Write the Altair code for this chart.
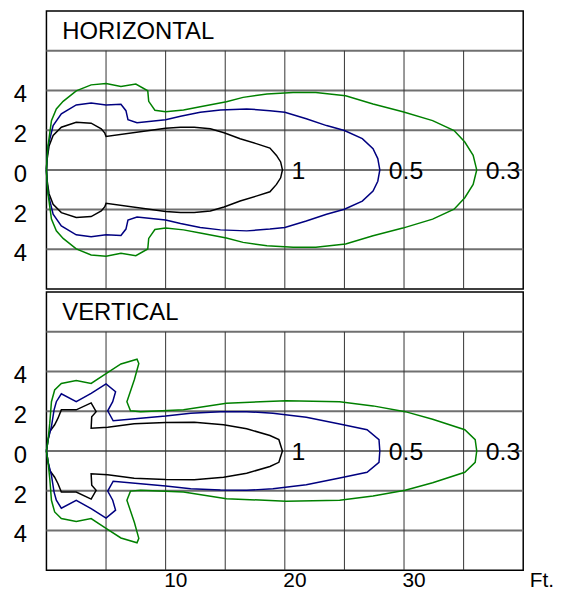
import altair as alt
import pandas as pd

FONT = "Liberation Sans"
FS_TICK = 24
FS_XTICK = 21
FS_TITLE = 24
FS_LABEL = 25

# ---------------- data (feet vs. lateral units) ----------------
# HORIZONTAL panel
H1_X = [0, 0.05, 0.22, 0.56, 1.25, 2.5, 3.75, 4.6, 4.9, 5.0, 10, 11.25, 12.4, 13.75, 14.9, 16.25, 17.6, 18.75, 19.3, 19.65, 19.8,
        19.65, 19.3, 18.75, 17.6, 16.25, 14.9, 13.75, 12.4, 11.25, 10, 5.0, 4.9, 4.6, 3.75, 2.5, 1.25, 0.56, 0.22, 0.05, 0]
H1_Y = [0, 0.5, 1.2, 1.73, 2.15, 2.4, 2.35, 2.07, 1.85, 1.68, 2.1, 2.15, 2.15, 2.07, 1.87, 1.57, 1.32, 1.1, 0.73, 0.4, 0,
        -0.4, -0.73, -1.1, -1.32, -1.57, -1.87, -2.07, -2.15, -2.15, -2.1, -1.68, -1.85, -2.07, -2.35, -2.4, -2.15, -1.73, -1.2, -0.5, 0]

H05_X = [0, 0.05, 0.14, 0.56, 1.25, 2.5, 3.75, 5, 6.25, 6.67, 6.84, 7.6, 10, 11.25, 12.9, 14.6, 16.8, 18.75, 20, 21.8, 23.5, 25, 26.5, 27.4, 27.8, 27.97,
         27.8, 27.4, 26.5, 25, 23.5, 21.8, 20, 18.75, 16.8, 14.6, 12.9, 11.25, 10, 7.6, 6.84, 6.67, 6.25, 5, 3.75, 2.5, 1.25, 0.56, 0.14, 0.05, 0]
H05_Y = [0, 0.6, 1.2, 2.23, 2.82, 3.27, 3.37, 3.27, 3.3, 2.98, 2.53, 2.37, 2.52, 2.7, 2.9, 3.02, 3.07, 2.98, 2.9, 2.57, 2.23, 1.98, 1.57, 1.07, 0.57, 0,
         -0.57, -1.07, -1.57, -1.98, -2.23, -2.57, -2.9, -2.98, -3.07, -3.02, -2.9, -2.7, -2.52, -2.37, -2.53, -2.98, -3.3, -3.27, -3.37, -3.27, -2.82, -2.23, -1.2, -0.6, 0]

H03_X = [0, 0.05, 0.14, 0.42, 0.83, 1.4, 2.5, 3.75, 5, 6.25, 7.5, 8.5, 8.58, 9.1, 10, 11.5, 12.9, 15.1, 16.5, 18.5, 20.7, 22.6, 25.1, 27.4, 29.9, 32.4, 34.2, 35.1, 35.8, 36.1,
         35.8, 35.1, 34.2, 32.4, 29.9, 27.4, 25.1, 22.6, 20.7, 18.5, 16.5, 15.1, 12.9, 11.5, 10, 9.1, 8.58, 8.5, 7.5, 6.25, 5, 3.75, 2.5, 1.4, 0.83, 0.42, 0.14, 0.05, 0]
H03_Y = [0, 0.6, 1.23, 2.48, 3.07, 3.45, 3.98, 4.28, 4.35, 4.2, 4.32, 3.98, 3.45, 3.0, 2.93, 3.02, 3.18, 3.43, 3.65, 3.82, 3.9, 3.9, 3.73, 3.32, 2.93, 2.48, 1.98, 1.4, 0.73, 0,
         -0.73, -1.4, -1.98, -2.48, -2.93, -3.32, -3.73, -3.9, -3.9, -3.82, -3.65, -3.43, -3.18, -3.02, -2.93, -3.0, -3.45, -3.98, -4.32, -4.2, -4.35, -4.28, -3.98, -3.45, -3.07, -2.48, -1.23, -0.6, 0]

# VERTICAL panel
V1_X = [0, 0.14, 0.28, 0.69, 0.97, 1.25, 2.5, 3.75, 4.17, 3.8, 3.75, 5.14, 7.36, 10, 12.4, 14.86, 16.8, 18.75, 19.5, 19.8,
        19.5, 18.75, 16.8, 14.86, 12.4, 10, 7.36, 5.14, 3.75, 3.8, 4.17, 3.75, 2.5, 1.25, 0.97, 0.69, 0.28, 0.14, 0]
V1_Y = [0, 0.57, 0.98, 1.32, 1.65, 2.07, 2.07, 2.42, 1.98, 1.72, 1.15, 1.2, 1.37, 1.43, 1.45, 1.32, 1.12, 0.78, 0.57, 0,
        -0.57, -0.78, -1.12, -1.32, -1.45, -1.43, -1.37, -1.2, -1.15, -1.72, -1.98, -2.42, -2.07, -2.07, -1.65, -1.32, -0.98, -0.57, 0]

V05_X = [0, 0.14, 0.42, 0.64, 0.83, 1.25, 2.5, 3.75, 5, 5.8, 5.56, 5.14, 5.6, 7.9, 10, 12.1, 14.6, 16.8, 19, 21.8, 24.6, 26.9, 27.9, 27.97,
         27.9, 26.9, 24.6, 21.8, 19, 16.8, 14.6, 12.1, 10, 7.9, 5.6, 5.14, 5.56, 5.8, 5, 3.75, 2.5, 1.25, 0.83, 0.64, 0.42, 0.14, 0]
V05_Y = [0, 0.57, 1.23, 2.07, 2.48, 2.88, 2.48, 2.9, 3.38, 2.98, 2.48, 2.02, 1.52, 1.65, 1.76, 1.9, 1.97, 1.98, 1.9, 1.7, 1.36, 1.07, 0.57, 0,
         -0.57, -1.07, -1.36, -1.7, -1.9, -1.98, -1.97, -1.9, -1.76, -1.65, -1.52, -2.02, -2.48, -2.98, -3.38, -2.9, -2.48, -2.88, -2.48, -2.07, -1.23, -0.57, 0]

V03_X = [0, 0.14, 0.28, 0.42, 0.69, 1.25, 2.5, 3.75, 5, 6.25, 7.6, 7.75, 7.38, 6.75, 7.05, 7.9, 11.5, 15.1, 20.1, 24.6, 27.4, 30.1, 32.4, 35.1, 35.97, 36.1,
         35.97, 35.1, 32.4, 30.1, 27.4, 24.6, 20.1, 15.1, 11.5, 7.9, 7.05, 6.75, 7.38, 7.75, 7.6, 6.25, 5, 3.75, 2.5, 1.25, 0.69, 0.42, 0.28, 0.14, 0]
V03_Y = [0, 0.57, 1.4, 2.48, 3.07, 3.4, 3.55, 3.4, 3.9, 4.38, 4.62, 4.4, 3.6, 2.48, 2.02, 1.98, 2.07, 2.4, 2.53, 2.48, 2.27, 1.98, 1.6, 1.07, 0.57, 0,
         -0.57, -1.07, -1.6, -1.98, -2.27, -2.48, -2.53, -2.4, -2.07, -1.98, -2.02, -2.48, -3.6, -4.4, -4.62, -4.38, -3.9, -3.4, -3.55, -3.4, -3.07, -2.48, -1.4, -0.57, 0]

LEVELS = ["1", "0.5", "0.3"]
LEVEL_COLORS = ["#000000", "#000080", "#008000"]
LABEL_X = [19.8, 27.97, 36.1]  # tip of each contour on the axis

Y_TICKS = [-4, -2, 0, 2, 4]
H_LINES = [-4, -2, 0, 2, 4, 6]
V_LINES = [5, 10, 15, 20, 25, 30, 35]
X_TICKS = [10, 20, 30, 40]

# ---------------- helpers ----------------
X_SCALE = alt.Scale(domain=[0, 40], nice=False, zero=False)
Y_SCALE = alt.Scale(domain=[-6, 8], nice=False, zero=False)

Y_AXIS = alt.Axis(values=Y_TICKS, labelExpr="format(abs(datum.value), 'd')", grid=False, domain=False,
                  ticks=False, tickSize=0, title=None, labelFont=FONT, labelFontSize=FS_TICK, labelColor="black",
                  labelPadding=20, labelBaseline="middle", labelOffset=4.5)


def x_axis(show):
    if not show:
        return None
    return alt.Axis(values=X_TICKS, labelExpr="datum.value == 40 ? 'Ft.' : datum.label", grid=False,
                    domain=False, ticks=False, tickSize=0, title=None, labelFont=FONT, labelFontSize=FS_XTICK,
                    labelColor="black", labelAlign="left", labelFlush=False, labelBaseline="top",
                    labelPadding=-1,
                    labelOffset=alt.condition("datum.value == 40", alt.value(6), alt.value(-2)))


def panel(title, curves, show_x):
    ax = x_axis(show_x)
    rows = []
    for lvl, (xs, ys) in zip(LEVELS, curves):
        for i, (xv, yv) in enumerate(zip(xs, ys)):
            rows.append({"x": xv, "y": yv, "level": lvl, "i": i})
    cdf = pd.DataFrame(rows)

    X = alt.X("x:Q", scale=X_SCALE, axis=ax)
    Y = alt.Y("y:Q", scale=Y_SCALE, axis=Y_AXIS)

    hgrid = alt.Chart(pd.DataFrame({"y": H_LINES})).mark_rule(color="#707070", strokeWidth=2).encode(y=Y)
    vgrid = alt.Chart(pd.DataFrame({"x": V_LINES, "y": [-6] * len(V_LINES), "y1": [6] * len(V_LINES)})).mark_rule(
        color="#333333", strokeWidth=1).encode(x=X, y=Y, y2="y1:Q")
    lines = alt.Chart(cdf).mark_line(strokeWidth=1.5, interpolate="linear").encode(
        x=X, y=Y, order=alt.Order("i:Q"),
        color=alt.Color("level:N", scale=alt.Scale(domain=LEVELS, range=LEVEL_COLORS), legend=None))
    labels = alt.Chart(pd.DataFrame({"x": LABEL_X, "y": [0, 0, 0], "t": LEVELS})).mark_text(
        align="left", baseline="middle", dx=9, dy=1, font=FONT, fontSize=FS_LABEL, color="black").encode(
        x=X, y=Y, text="t:N")
    ttl = alt.Chart(pd.DataFrame({"x": [0], "y": [7], "t": [title]})).mark_text(
        align="left", baseline="middle", dx=16, dy=1, font=FONT, fontSize=FS_TITLE, color="black").encode(
        x=X, y=Y, text="t:N")
    return alt.layer(hgrid, vgrid, lines, labels, ttl).properties(width=480, height=280)


top = panel("HORIZONTAL", [(H1_X, H1_Y), (H05_X, H05_Y), (H03_X, H03_Y)], False)
bottom = panel("VERTICAL", [(V1_X, V1_Y), (V05_X, V05_Y), (V03_X, V03_Y)], True)

chart = alt.vconcat(top, bottom, spacing=0).properties(
    padding={"left": 3.7, "top": 0, "right": 0, "bottom": 0}, background="white"
).configure_view(stroke="black", strokeWidth=1.5)

chart.save("out.html", embed_options={"renderer": "svg", "actions": False})
